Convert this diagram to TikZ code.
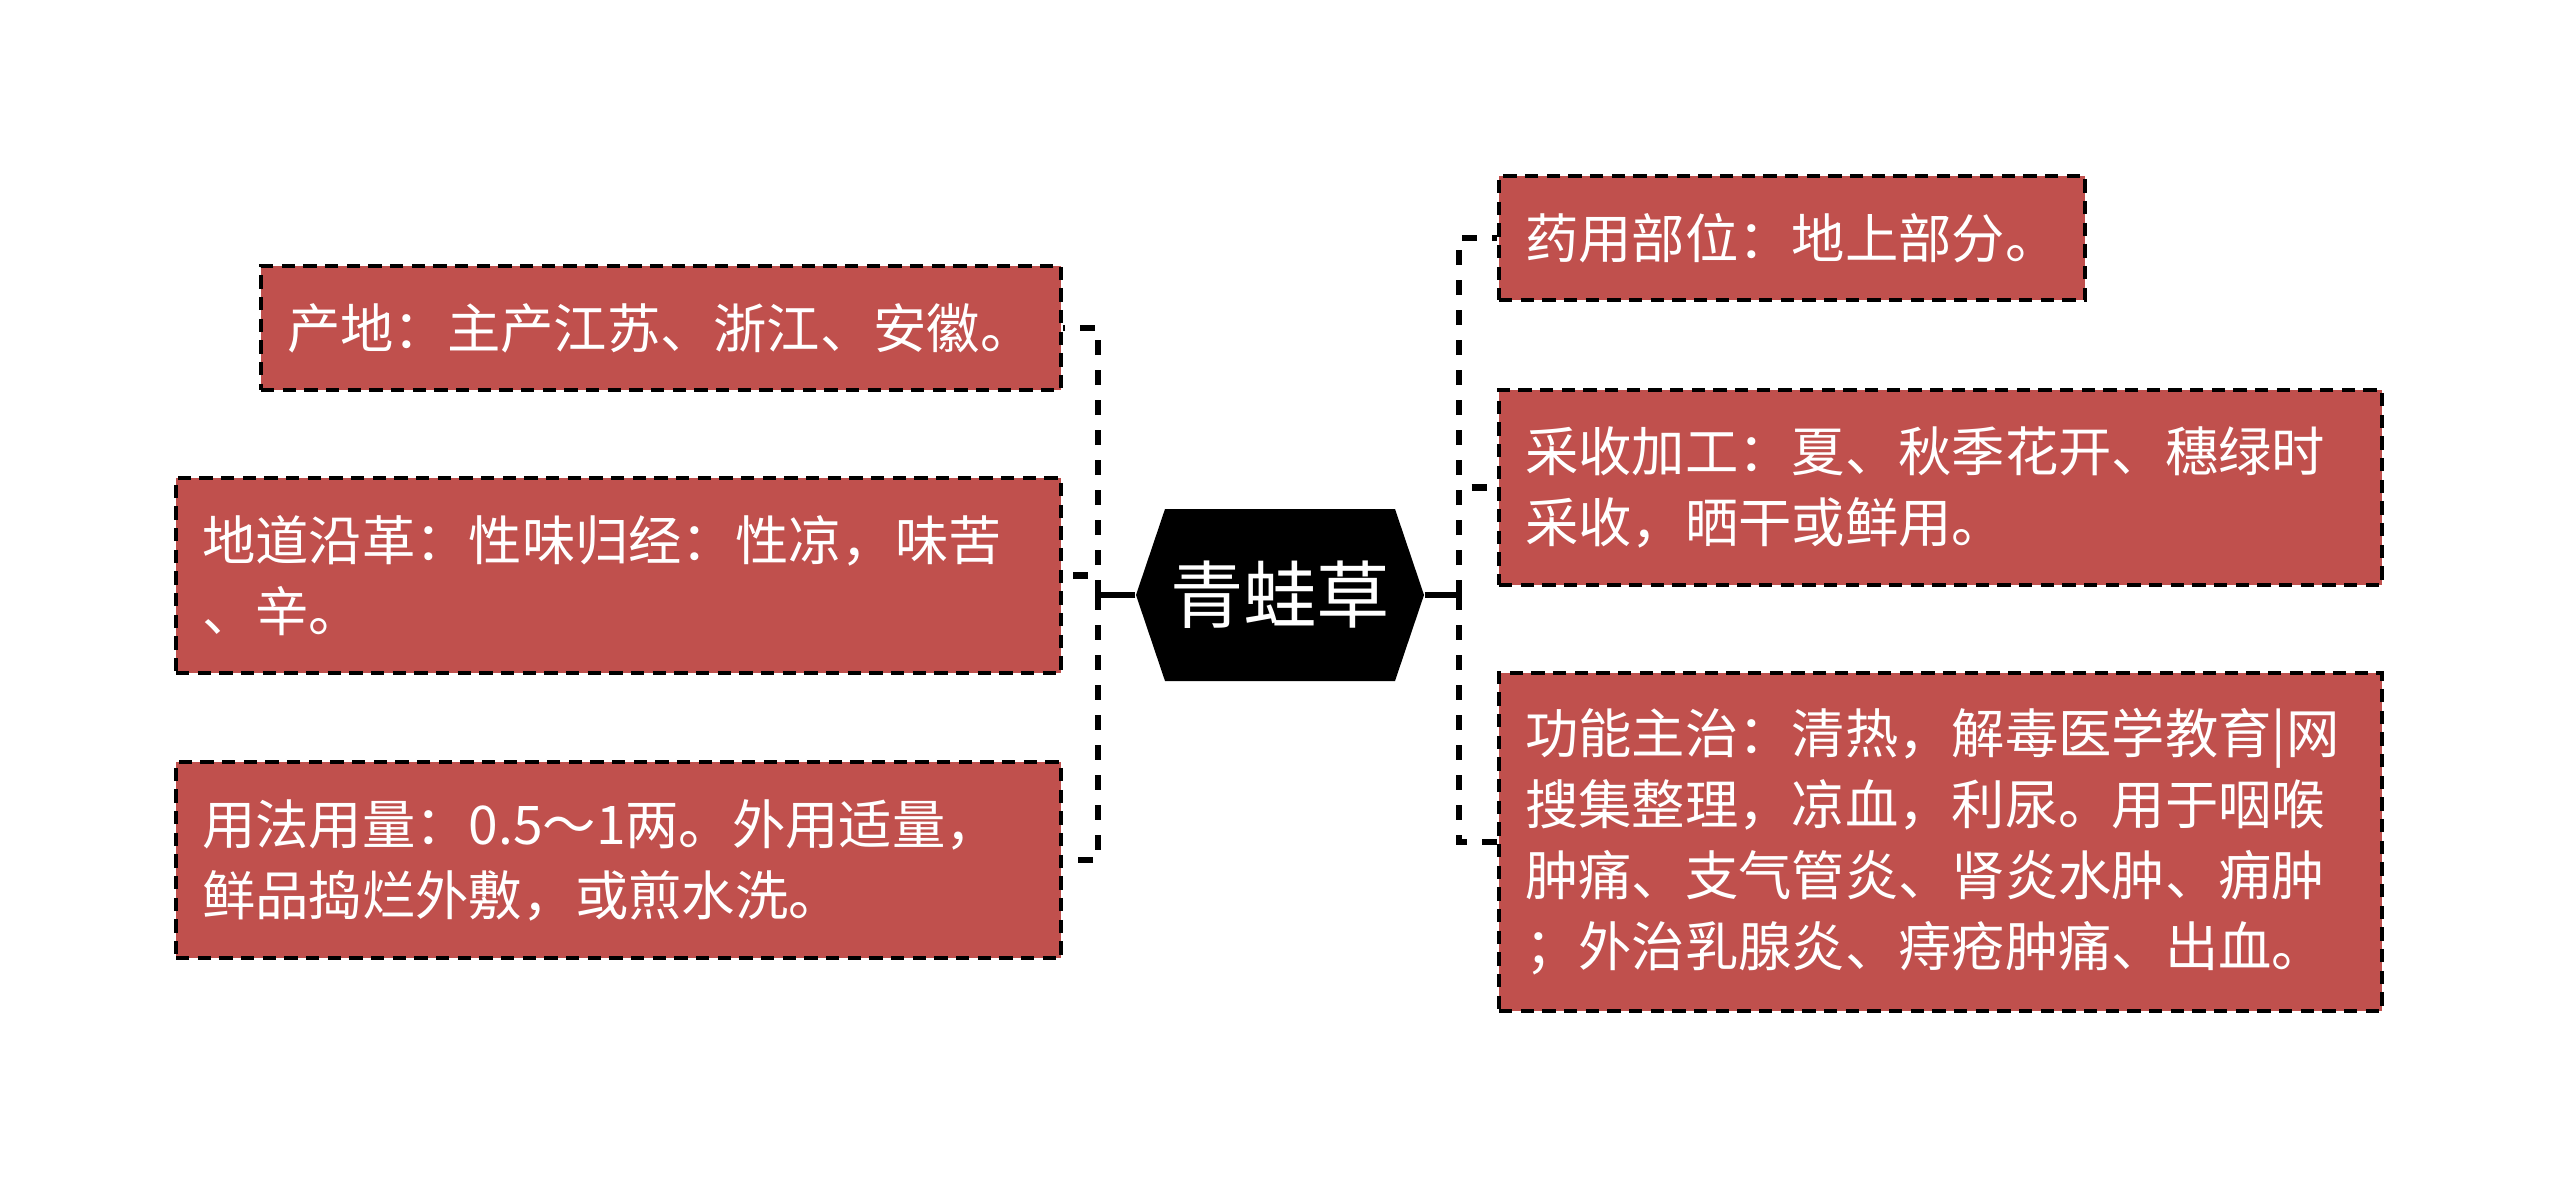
\documentclass[tikz,border=0pt]{standalone}
\usepackage{fontspec}
\setmainfont{Noto Sans CJK SC}
\definecolor{boxred}{RGB}{192,80,77}
\tikzset{
  leaf/.style={draw=black, line width=1.3pt, dash pattern=on 4pt off 2.5pt,
    fill=boxred, text=white, font=\fontsize{16}{21.3}\selectfont,
    align=left, inner xsep=7.8pt, inner ysep=0pt, anchor=center},
  link/.style={line width=1.9pt, dash pattern=on 4.5pt off 4.5pt},
  trunk/.style={line width=1.8pt},
}
\begin{document}
\begin{tikzpicture}[x=0.3pt,y=-0.3pt]
\fill[white] (0,0) rectangle (2560,1191);
\useasboundingbox (0,0) rectangle (2560,1191);
% root hexagon
\fill[black] (1136,595) -- (1165,509) -- (1395,509) -- (1424,595) -- (1395,681) -- (1165,681) -- cycle;
\node[text=white, font=\fontsize{22}{26}\selectfont, minimum width=86.4pt, minimum height=51.6pt, inner sep=0pt] (root) at (1280,595) {青蛙草};
% left leaves
\node[leaf, text width=224.4pt, minimum height=37.2pt] (L1) at (661,328) {产地：主产江苏、浙江、安徽。};
\node[leaf, text width=249.9pt, minimum height=58.5pt] (L2) at (618.5,575.5) {地道沿革：性味归经：性凉，味苦\\、辛。};
\node[leaf, text width=249.9pt, minimum height=58.8pt] (L3) at (618.5,860) {用法用量：0.5～1两。外用适量，\\鲜品捣烂外敷，或煎水洗。};
% right leaves
\node[leaf, text width=160.2pt, minimum height=37.2pt] (R1) at (1792,238) {药用部位：地上部分。};
\node[leaf, text width=249.3pt, minimum height=58.5pt] (R2) at (1940.5,487.5) {采收加工：夏、秋季花开、穗绿时\\采收，晒干或鲜用。};
\node[leaf, text width=249.3pt, minimum height=101.4pt] (R3) at (1940.5,842) {功能主治：清热，解毒医学教育|网\\搜集整理，凉血，利尿。用于咽喉\\肿痛、支气管炎、肾炎水肿、痈肿\\；外治乳腺炎、痔疮肿痛、出血。};
% connectors
\coordinate (lj) at (1098,595);
\coordinate (rj) at (1459,595);
\draw[trunk] (root.west) -- (lj);
\draw[trunk] (root.east) -- (rj);
\draw[link] (lj) |- (L1.east);
\draw[link] (lj) |- (L2.east);
\draw[link] (lj) |- (L3.east);
\draw[link] (rj) |- (R1.west);
\draw[link] (rj) |- (R2.west);
\draw[link] (rj) |- (R3.west);
\end{tikzpicture}
\end{document}
